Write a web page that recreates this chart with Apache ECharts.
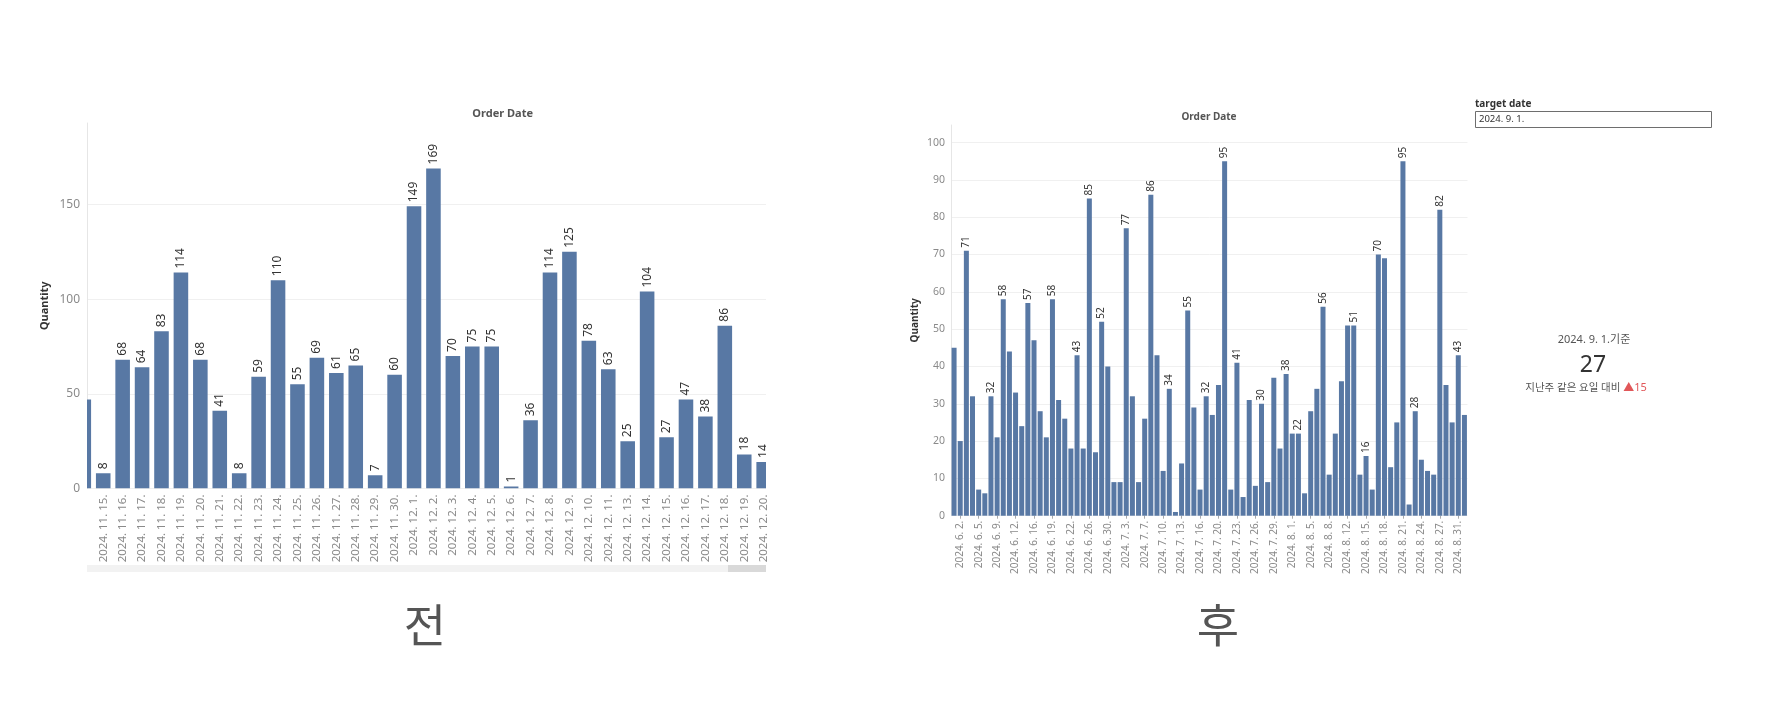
<!DOCTYPE html>
<html><head><meta charset="utf-8">
<script src="https://cdn.jsdelivr.net/npm/echarts@6/dist/echarts.min.js"></script>
<style>html,body{margin:0;padding:0;background:#fff}#c{width:1770px;height:718px}</style>
</head><body><div id="c"></div>
<script>
// ---------- DATA ----------
const leftDates = ['2024. 11. 14.','2024. 11. 15.','2024. 11. 16.','2024. 11. 17.','2024. 11. 18.','2024. 11. 19.','2024. 11. 20.','2024. 11. 21.','2024. 11. 22.','2024. 11. 23.','2024. 11. 24.','2024. 11. 25.','2024. 11. 26.','2024. 11. 27.','2024. 11. 28.','2024. 11. 29.','2024. 11. 30.','2024. 12. 1.','2024. 12. 2.','2024. 12. 3.','2024. 12. 4.','2024. 12. 5.','2024. 12. 6.','2024. 12. 7.','2024. 12. 8.','2024. 12. 9.','2024. 12. 10.','2024. 12. 11.','2024. 12. 13.','2024. 12. 14.','2024. 12. 15.','2024. 12. 16.','2024. 12. 17.','2024. 12. 18.','2024. 12. 19.','2024. 12. 20.'];
const leftQty = [47,8,68,64,83,114,68,41,8,59,110,55,69,61,65,7,60,149,169,70,75,75,1,36,114,125,78,63,25,104,27,47,38,86,18,14];
const leftYTicks = [0,50,100,150];

const rightDates = ['2024. 6. 1.','2024. 6. 2.','2024. 6. 3.','2024. 6. 4.','2024. 6. 5.','2024. 6. 6.','2024. 6. 7.','2024. 6. 9.','2024. 6. 10.','2024. 6. 11.','2024. 6. 12.','2024. 6. 13.','2024. 6. 14.','2024. 6. 16.','2024. 6. 17.','2024. 6. 18.','2024. 6. 19.','2024. 6. 20.','2024. 6. 21.','2024. 6. 22.','2024. 6. 23.','2024. 6. 24.','2024. 6. 26.','2024. 6. 27.','2024. 6. 28.','2024. 6. 30.','2024. 7. 1.','2024. 7. 2.','2024. 7. 3.','2024. 7. 4.','2024. 7. 5.','2024. 7. 7.','2024. 7. 8.','2024. 7. 9.','2024. 7. 10.','2024. 7. 11.','2024. 7. 12.','2024. 7. 13.','2024. 7. 14.','2024. 7. 15.','2024. 7. 16.','2024. 7. 17.','2024. 7. 18.','2024. 7. 20.','2024. 7. 21.','2024. 7. 22.','2024. 7. 23.','2024. 7. 24.','2024. 7. 25.','2024. 7. 26.','2024. 7. 27.','2024. 7. 28.','2024. 7. 29.','2024. 7. 30.','2024. 7. 31.','2024. 8. 1.','2024. 8. 2.','2024. 8. 3.','2024. 8. 5.','2024. 8. 6.','2024. 8. 7.','2024. 8. 8.','2024. 8. 9.','2024. 8. 10.','2024. 8. 12.','2024. 8. 13.','2024. 8. 14.','2024. 8. 15.','2024. 8. 16.','2024. 8. 17.','2024. 8. 18.','2024. 8. 19.','2024. 8. 20.','2024. 8. 21.','2024. 8. 22.','2024. 8. 23.','2024. 8. 24.','2024. 8. 25.','2024. 8. 26.','2024. 8. 27.','2024. 8. 28.','2024. 8. 29.','2024. 8. 31.','2024. 9. 1.'];
const rightQty = [45,20,71,32,7,6,32,21,58,44,33,24,57,47,28,21,58,31,26,18,43,18,85,17,52,40,9,9,77,32,9,26,86,43,12,34,1,14,55,29,7,32,27,35,95,7,41,5,31,8,30,9,37,18,38,22,22,6,28,34,56,11,22,36,51,51,11,16,7,70,69,13,25,95,3,28,15,12,11,82,35,25,43,27];
// dates whose bars carry a value label in the reference
const rightLabeledDates = ['2024. 6. 3.','2024. 6. 7.','2024. 6. 10.','2024. 6. 14.','2024. 6. 19.','2024. 6. 23.','2024. 6. 26.','2024. 6. 28.','2024. 7. 3.','2024. 7. 8.','2024. 7. 11.','2024. 7. 14.','2024. 7. 17.','2024. 7. 21.','2024. 7. 23.','2024. 7. 27.','2024. 7. 31.','2024. 8. 2.','2024. 8. 7.','2024. 8. 13.','2024. 8. 15.','2024. 8. 17.','2024. 8. 21.','2024. 8. 23.','2024. 8. 27.','2024. 8. 31.'];
const rightYTicks = [0,10,20,30,40,50,60,70,80,90,100];

const targetDate = '2024. 9. 1.';
const compareDate = '2024. 8. 25.';

// ---------- CHART ----------
const FONT = '"Noto Sans", "Noto Sans CJK KR", sans-serif';
const BAR = '#5878a4';
const AXIS_TXT = '#8a8a8a';

// visible window of the (scrolled) left view, in category-index units
const leftMin = 0.165, leftMax = 35.12;
const leftData = leftQty.map((v, i) => [i, v]);
const leftLabelVals = leftDates.map((d, i) => i).filter(i => i >= leftMin && i <= leftMax);

function renderLeftBar(params, api) {
  const i = api.value(0), v = api.value(1);
  const base = api.coord([i, 0]);
  const top = api.coord([i, v]);
  const w = api.size([1, 0])[0] * 0.75;
  const cs = params.coordSys;
  const shape = echarts.graphic.clipRectByRect(
    { x: base[0] - w / 2, y: top[1], width: w, height: base[1] - top[1] },
    { x: cs.x, y: cs.y, width: cs.width, height: cs.height });
  const children = [];
  if (shape) children.push({ type: 'rect', shape: shape, style: { fill: BAR } });
  children.push({
    type: 'text', x: top[0], y: top[1] - 4, rotation: Math.PI / 2,
    style: { text: String(v), fontSize: 12, fontFamily: FONT, fill: '#333', align: 'left', verticalAlign: 'middle' }
  });
  return { type: 'group', children: children };
}

const rightData = rightQty.map((v, i) => ({
  value: v,
  label: { show: rightLabeledDates.includes(rightDates[i]) }
}));

const tIdx = rightDates.indexOf(targetDate);
const cIdx = rightDates.indexOf(compareDate);
const tVal = rightQty[tIdx];
const diff = tVal - rightQty[cIdx];

const chart = echarts.init(document.getElementById('c'), null, {renderer: 'canvas'});
chart.setOption({
  animation: false,
  backgroundColor: '#ffffff',
  textStyle: { fontFamily: FONT },
  grid: [
    { left: 87, top: 123, width: 679, height: 365.5 },
    { left: 951, top: 125, width: 516.5, height: 390.7 }
  ],
  xAxis: [
    {
      type: 'value', gridIndex: 0, min: leftMin, max: leftMax,
      axisLine: { show: false },
      axisTick: { show: false, customValues: leftLabelVals },
      splitLine: { show: false },
      axisLabel: {
        customValues: leftLabelVals, rotate: 90, margin: 6,
        fontSize: 11.5, color: AXIS_TXT, fontFamily: FONT,
        formatter: v => leftDates[Math.round(v)]
      }
    },
    {
      type: 'category', gridIndex: 1, data: rightDates,
      axisLine: { show: false },
      axisTick: { show: true, alignWithLabel: true, length: 3, interval: i => i % 3 === 1, lineStyle: { color: '#aaaaaa' } },
      axisLabel: {
        rotate: 90, margin: 5, fontSize: 10, color: AXIS_TXT, fontFamily: FONT,
        interval: i => i % 3 === 1
      }
    }
  ],
  yAxis: [
    {
      type: 'value', gridIndex: 0, min: 0, max: 193,
      name: 'Quantity', nameLocation: 'middle', nameRotate: 90, nameGap: 37,
      nameTextStyle: { fontWeight: 'bold', fontSize: 11, color: '#333', fontFamily: FONT },
      axisLine: { show: true, lineStyle: { color: '#e6e6e6' } },
      axisTick: { show: false, customValues: leftYTicks },
      axisLabel: { customValues: leftYTicks, fontSize: 12, color: AXIS_TXT, margin: 7, fontFamily: FONT },
      splitLine: { show: true, lineStyle: { color: '#f0f0f0' } }
    },
    {
      type: 'value', gridIndex: 1, min: 0, max: 104.7,
      name: 'Quantity', nameLocation: 'middle', nameRotate: 90, nameGap: 31,
      nameTextStyle: { fontWeight: 'bold', fontSize: 10, color: '#333', fontFamily: FONT },
      axisLine: { show: true, lineStyle: { color: '#e6e6e6' } },
      axisTick: { show: false, customValues: rightYTicks },
      axisLabel: { customValues: rightYTicks, fontSize: 10.5, color: AXIS_TXT, margin: 6, fontFamily: FONT },
      splitLine: { show: true, lineStyle: { color: '#f0f0f0' } }
    }
  ],
  series: [
    {
      type: 'custom', xAxisIndex: 0, yAxisIndex: 0, data: leftData,
      encode: { x: 0, y: 1 }, clip: true,
      renderItem: renderLeftBar
    },
    {
      type: 'bar', xAxisIndex: 1, yAxisIndex: 1, data: rightData,
      barWidth: 5,
      itemStyle: { color: BAR },
      label: {
        show: false, position: 'top', rotate: 90, align: 'left', verticalAlign: 'middle',
        distance: 3, fontSize: 10, color: '#333', fontFamily: FONT
      }
    }
  ],
  graphic: [
    { type: 'text', x: 502.7, y: 114, style: { text: 'Order Date', fontSize: 11, fontWeight: 'bold', fontFamily: FONT, fill: '#555', align: 'center', verticalAlign: 'middle' } },
    { type: 'text', x: 1209, y: 117, style: { text: 'Order Date', fontSize: 10, fontWeight: 'bold', fontFamily: FONT, fill: '#555', align: 'center', verticalAlign: 'middle' } },
    // scrollbar of the left view
    { type: 'rect', shape: { x: 87, y: 565, width: 679, height: 7 }, style: { fill: '#f2f2f2' } },
    { type: 'rect', shape: { x: 728, y: 565, width: 38, height: 7 }, style: { fill: '#d9d9d9' } },
    // target date parameter
    { type: 'text', x: 1475, y: 104, style: { text: 'target date', fontSize: 10, fontWeight: 'bold', fontFamily: FONT, fill: '#333', align: 'left', verticalAlign: 'middle' } },
    { type: 'rect', shape: { x: 1475.5, y: 111.5, width: 236, height: 16 }, style: { fill: '#fff', stroke: '#6e6e6e', lineWidth: 1 } },
    { type: 'text', x: 1479, y: 119.5, style: { text: targetDate, fontSize: 9.5, fontFamily: FONT, fill: '#333', align: 'left', verticalAlign: 'middle' } },
    // KPI
    { type: 'text', x: 1594, y: 340, style: { text: targetDate + '기준', fontSize: 11, fontFamily: FONT, fill: '#555', align: 'center', verticalAlign: 'middle' } },
    { type: 'text', x: 1593, y: 365, style: { text: String(tVal), fontSize: 23, fontFamily: FONT, fill: '#333', align: 'center', verticalAlign: 'middle' } },
    { type: 'text', x: 1586, y: 388, style: { text: '지난주 같은 요일 대비 {r|' + (diff >= 0 ? '▲' : '▼') + Math.abs(diff) + '}', fontSize: 10.5, fontFamily: FONT, fill: '#555', align: 'center', verticalAlign: 'middle', rich: { r: { fill: '#e15759', fontSize: 11, fontFamily: FONT } } } },
    // captions
    { type: 'text', x: 425, y: 629, style: { text: '전', fontSize: 46, fontFamily: FONT, fill: '#555', align: 'center', verticalAlign: 'middle' } },
    { type: 'text', x: 1218, y: 629, style: { text: '후', fontSize: 46, fontFamily: FONT, fill: '#555', align: 'center', verticalAlign: 'middle' } }
  ]
});
</script>
</body></html>
